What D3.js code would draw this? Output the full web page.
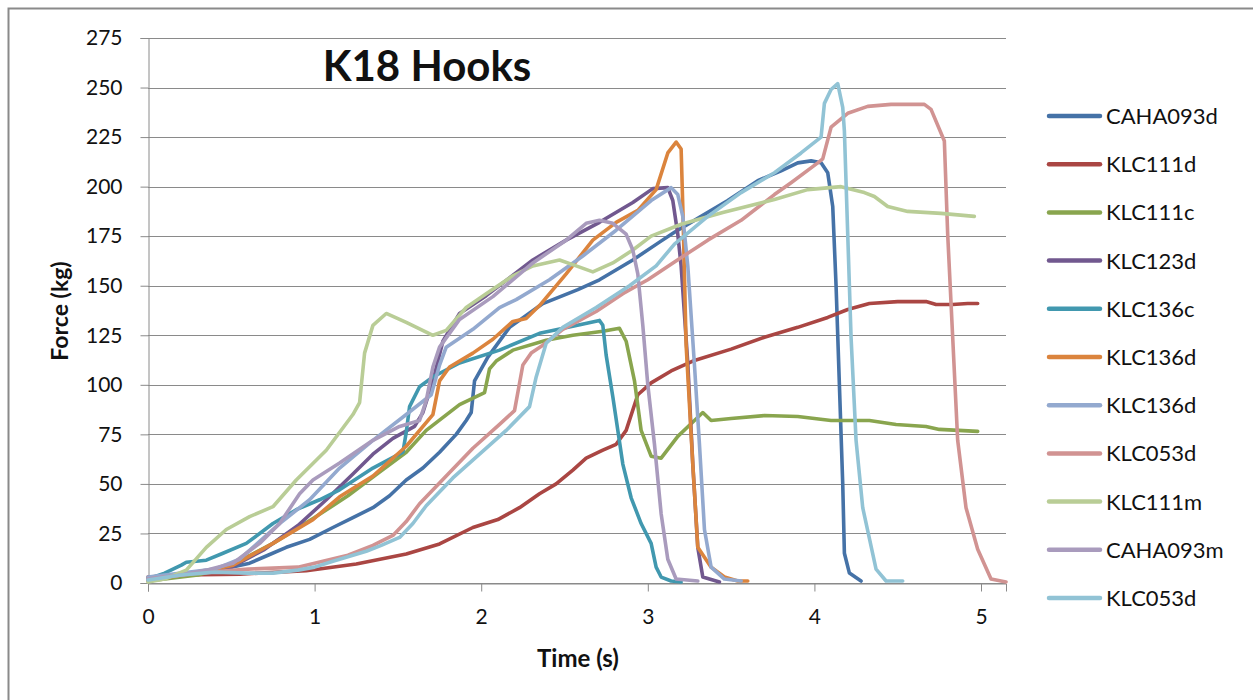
<!DOCTYPE html>
<html><head><meta charset="utf-8">
<script src="https://cdn.jsdelivr.net/npm/d3@7"></script>
<style>
html,body{margin:0;padding:0;background:#fff;}
svg text{font-family:Lato,"Open Sans",sans-serif;fill:#111;}
</style></head>
<body>
<svg id="chart" width="1253" height="700"></svg>
<script>
const chartTitle = "K18 Hooks";
const xTitle = "Time (s)";
const yTitle = "Force (kg)";
const xTicks = [0,1,2,3,4,5];
const yTicks = [0,25,50,75,100,125,150,175,200,225,250,275];
const seriesNames = ["CAHA093d","KLC111d","KLC111c","KLC123d","KLC136c","KLC136d","KLC136d","KLC053d","KLC111m","CAHA093m","KLC053d"];
const seriesColors = ["#4572A7","#AA4643","#89A54E","#71588F","#4198AF","#DB843D","#93A9CF","#D19392","#B9CD96","#A99BBD","#91C3D5"];

// [time (s), force (kg)]
const caha093d = [[0,2],[0.3,5],[0.5,8],[0.61,10],[0.72,14],[0.83,18],[0.97,22],[1.11,28],[1.23,33],[1.35,38],[1.45,44],[1.55,52],[1.65,58],[1.75,66],[1.85,75],[1.91,82],[1.94,86],[1.96,102],[2.04,114],[2.17,129],[2.37,141],[2.58,148],[2.71,153],[2.91,163],[3.07,172],[3.16,177],[3.32,185],[3.48,193],[3.66,203],[3.80,208],[3.90,212],[3.98,213],[4.04,212],[4.08,207],[4.11,190],[4.13,150],[4.15,100],[4.17,50],[4.18,15],[4.21,5],[4.28,1]];
const klc111d = [[0,3],[0.2,4],[0.55,4.5],[0.95,6.2],[1.25,9.6],[1.55,14.6],[1.75,19.7],[1.95,28],[2.1,32],[2.23,38],[2.35,45],[2.45,50],[2.55,57],[2.63,63],[2.73,67],[2.81,70],[2.87,77],[2.94,95],[3.02,101],[3.14,107],[3.27,112],[3.5,118],[3.7,124],[3.9,129],[4.08,134],[4.2,138],[4.33,141],[4.5,142],[4.67,142],[4.73,140.5],[4.83,140.5],[4.92,141],[4.98,141]];
const klc111c = [[0,1],[0.3,4],[0.5,9],[0.75,20],[1.0,33],[1.2,44],[1.39,56],[1.55,66],[1.67,77],[1.87,90],[2.02,96],[2.05,108],[2.09,112],[2.19,117.5],[2.39,122.5],[2.55,125],[2.73,127],[2.83,128.5],[2.87,122],[2.92,102],[2.96,77],[3.02,64],[3.08,63],[3.18,74],[3.28,82],[3.33,86],[3.38,82],[3.5,83],[3.7,84.5],[3.9,84],[4.1,82],[4.33,82],[4.49,80],[4.67,79],[4.75,77.5],[4.98,76.5]];
const klc123d = [[0,2],[0.3,5],[0.5,8],[0.7,17],[0.9,29],[1.07,42],[1.23,55],[1.35,65],[1.47,73],[1.6,79],[1.65,86],[1.71,102],[1.77,122],[1.87,136],[2.03,145],[2.31,163],[2.51,173],[2.71,182],[2.91,192],[3.03,199],[3.12,199.5],[3.15,193],[3.18,176],[3.2,160],[3.24,111],[3.27,60],[3.3,18],[3.33,3],[3.43,0.5]];
const klc136c = [[0,2],[0.1,5],[0.2,9],[0.23,10.5],[0.35,11.5],[0.45,15],[0.59,20],[0.75,30],[0.89,37],[1.03,42],[1.15,47],[1.35,58],[1.53,66],[1.55,76],[1.57,89],[1.63,99],[1.71,104],[1.87,111],[2.11,117.5],[2.35,126],[2.55,129.5],[2.71,132.5],[2.73,130],[2.75,115],[2.79,94],[2.85,60],[2.9,43],[2.96,30],[3.02,20],[3.05,8],[3.08,3],[3.14,1],[3.2,0.5]];
const klc136d = [[0,1],[0.2,4],[0.35,6],[0.51,9],[0.75,20],[0.99,32],[1.15,43.5],[1.35,54],[1.55,69],[1.71,85],[1.75,102],[1.81,109],[1.95,116],[2.07,123],[2.19,132],[2.27,133.5],[2.35,140],[2.51,156],[2.67,173],[2.81,182],[2.94,188],[3.05,198.5],[3.12,217],[3.17,222.5],[3.2,219],[3.21,190],[3.23,120],[3.27,60],[3.3,18],[3.38,8],[3.46,3],[3.54,1],[3.6,1]];
const klc136d2 = [[0,3],[0.2,5],[0.4,7],[0.55,12],[0.79,30],[0.97,42],[1.15,58],[1.35,72],[1.55,85],[1.7,95],[1.75,110],[1.79,119],[1.95,128],[2.11,139],[2.21,143],[2.41,153],[2.61,165],[2.81,178],[3.02,193],[3.14,199.5],[3.18,196],[3.21,185],[3.24,160],[3.28,110],[3.31,70],[3.34,27],[3.38,8],[3.46,2],[3.56,1]];
const klc053d = [[0,2],[0.3,5],[0.6,7],[0.9,8],[1.05,11],[1.2,14],[1.35,19],[1.47,24],[1.55,31],[1.63,40],[1.79,54],[1.95,68],[2.11,80],[2.2,87],[2.25,110],[2.3,116],[2.37,120],[2.49,128],[2.69,137],[2.85,146],[3.0,153],[3.16,162],[3.36,173],[3.56,183],[3.76,196],[3.86,202],[4.02,212],[4.05,214],[4.1,230],[4.2,237],[4.32,240.5],[4.46,241.5],[4.66,241.5],[4.7,239],[4.78,223],[4.8,176],[4.83,124],[4.86,72],[4.91,38],[4.98,17],[5.06,2],[5.15,0.5]];
const klc111m = [[0,0.5],[0.1,2],[0.23,6.5],[0.35,18],[0.47,27],[0.61,33.5],[0.75,38.5],[0.89,52],[1.07,67],[1.23,85],[1.27,91],[1.3,116],[1.35,130],[1.43,136],[1.55,131.5],[1.71,125],[1.79,127.5],[1.91,139],[2.03,146],[2.19,155],[2.31,160],[2.47,163],[2.57,160],[2.67,157],[2.79,161.5],[2.91,168],[3.02,175],[3.2,181],[3.45,187],[3.76,193.5],[3.96,198.5],[4.16,200],[4.3,197],[4.36,195],[4.44,190],[4.56,187.5],[4.76,186.5],[4.96,185]];
const caha093m = [[0,2],[0.2,4],[0.35,6.5],[0.51,10],[0.67,20],[0.79,30],[0.91,45],[0.99,52],[1.15,60.5],[1.35,72],[1.51,79],[1.63,82],[1.67,92],[1.71,109],[1.75,119],[1.87,133],[2.07,144.5],[2.31,161.5],[2.51,173],[2.63,181.5],[2.71,183],[2.79,181.5],[2.87,176],[2.91,168],[2.94,156],[2.97,130],[3.0,100],[3.04,70],[3.08,35],[3.12,12],[3.17,2],[3.3,1]];
const klc053d2 = [[0,1.5],[0.2,4],[0.4,5.5],[0.6,5],[0.75,5],[0.9,6.5],[1.0,8],[1.11,11],[1.31,16],[1.4,19],[1.51,23],[1.59,30],[1.67,39],[1.83,53],[1.99,65],[2.15,77],[2.29,89],[2.33,104],[2.39,121],[2.49,129],[2.69,139],[2.89,150],[3.05,160],[3.16,171],[3.36,185],[3.56,197],[3.76,207],[3.92,217],[4.04,225],[4.06,242],[4.1,249],[4.14,252],[4.17,240],[4.18,228],[4.2,176],[4.22,124],[4.25,72],[4.29,38],[4.37,7],[4.43,1],[4.53,1]];

const seriesData = [caha093d,klc111d,klc111c,klc123d,klc136c,klc136d,klc136d2,klc053d,klc111m,caha093m,klc053d2];

const svg = d3.select("#chart");
const grid = "#8a8a8a";

// outer frame
svg.append("rect").attr("x",8.5).attr("y",8.5).attr("width",1260).attr("height",700)
  .attr("fill","none").attr("stroke",grid).attr("stroke-width",2);

const x = d3.scaleLinear().domain([0,5.15]).range([148,1006]);
const y = d3.scaleLinear().domain([0,275]).range([583,38]);

// gridlines
svg.append("g").selectAll("line").data(yTicks).join("line")
  .attr("x1",148).attr("x2",1006)
  .attr("y1",d=>Math.round(y(d))+0.5).attr("y2",d=>Math.round(y(d))+0.5)
  .attr("stroke",grid).attr("stroke-width",1);

// y axis
const yAxis = svg.append("g").attr("transform","translate(148.5,0)")
  .call(d3.axisLeft(y).tickValues(yTicks).tickSize(8).tickPadding(18).tickFormat(d3.format("d")));
yAxis.select(".domain").attr("stroke",grid);
yAxis.selectAll(".tick line").attr("stroke",grid);
yAxis.selectAll("text").style("font-size","21px").style("font-family","Lato").attr("fill","#111");

// x axis
const xAxis = svg.append("g").attr("transform","translate(0,583.5)")
  .call(d3.axisBottom(x).tickValues(xTicks).tickSize(8).tickPadding(18).tickFormat(d3.format("d")));
xAxis.select(".domain").attr("stroke",grid);
xAxis.selectAll(".tick line").attr("stroke",grid);
xAxis.selectAll("text").style("font-size","21px").style("font-family","Lato").attr("fill","#111");

// lines
const line = d3.line().x(d=>x(d[0])).y(d=>y(d[1]));
svg.append("g").selectAll("path").data(seriesData).join("path")
  .attr("d",line).attr("fill","none")
  .attr("stroke",(d,i)=>seriesColors[i]).attr("stroke-width",3.6)
  .attr("stroke-linejoin","round").attr("stroke-linecap","round");

// title
svg.append("text").attr("x",427).attr("y",81).attr("text-anchor","middle")
  .style("font-size","42px").style("font-weight","bold").text(chartTitle);
// axis titles
svg.append("text").attr("x",578).attr("y",667).attr("text-anchor","middle")
  .style("font-size","24px").style("font-weight","bold").text(xTitle);
svg.append("text").attr("transform","translate(68,311) rotate(-90)").attr("text-anchor","middle")
  .style("font-size","23px").style("font-weight","bold").text(yTitle);

// legend
const lg = svg.append("g").selectAll("g").data(seriesNames).join("g")
  .attr("transform",(d,i)=>`translate(0,${116+i*48.2})`);
lg.append("line").attr("x1",1049).attr("x2",1100).attr("y1",0).attr("y2",0)
  .attr("stroke",(d,i)=>seriesColors[i]).attr("stroke-width",4.5).attr("stroke-linecap","round");
lg.append("text").attr("x",1106).attr("y",8).style("font-size","22px").text(d=>d);
</script>
</body></html>
